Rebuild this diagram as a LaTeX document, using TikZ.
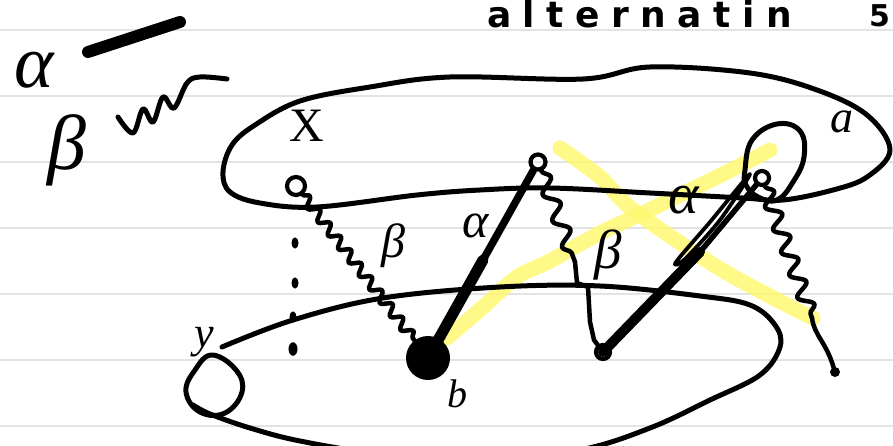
\documentclass[tikz,border=0pt]{standalone}
\usepackage{fontspec}
\setmainfont{Liberation Serif}
\newfontfamily\headfont[LetterSpace=32]{DejaVu Sans}
\newfontfamily\numfont{DejaVu Sans}
\usetikzlibrary{decorations.pathmorphing,calc}
\begin{document}
\begin{tikzpicture}[x=1pt,y=-1pt,line cap=round,line join=round,
  ink/.style={draw=black,line width=5pt},
  rule/.style={draw=gray!22,line width=2.8pt},
  hilite/.style={draw=yellow!55,line width=15pt,opacity=0.85},
  wavy/.style 2 args={draw=black,line width=4.5pt,decorate,decoration={snake,amplitude=#1pt,segment length=#2pt}},
  hand/.style={inner sep=0pt,font=\itshape\fontsize{#1}{#1}\selectfont},
  vtx/.style={circle,draw=black,line width=4.2pt,inner sep=0pt,minimum size=#1pt},
  blob/.style={circle,fill=black,inner sep=0pt,minimum size=#1pt},
  bar/.style={draw=black,line width=#1pt}]
\useasboundingbox (0,0) rectangle (893,446);
\clip (0,0) rectangle (893,446);
\fill[white] (0,0) rectangle (893,446);
% ruled paper
\foreach \yy in {30,96,162,228,294,360,426} \draw[rule] (0,\yy) -- (893,\yy);

% heading
\node[inner sep=0pt,anchor=base west,font=\headfont\bfseries\fontsize{36}{36}\selectfont] (title) at (487,28) {alternatin};
\node[inner sep=0pt,anchor=base west,font=\numfont\bfseries\fontsize{30}{30}\selectfont] (cut) at (869,27) {5};

% legend
\node[hand=75] (lalpha) at (34,70) {α};
\coordinate (la1) at (88,52);
\coordinate (la2) at (180,22);
\draw[bar=12] (la1) -- (la2);
\node[hand=78] (lbeta) at (67,150) {β};
\draw[ink,line width=5pt] plot[smooth,tension=0.6] coordinates {(118,117) (133,133) (143,109) (153,122) (163,97) (174,108) (187,83) (200,77) (227,79)};

% highlighter strokes
\draw[hilite] plot[smooth] coordinates {(560,148) (600,177) (633,210) (717,267) (783,303) (813,318)};
\draw[hilite] plot[smooth] coordinates {(447,338) (483,307) (517,277) (550,261) (600,233) (643,213) (717,177) (770,150)};

% set X (top ellipse)
\draw[ink] plot[smooth cycle,tension=0.6] coordinates {(223,172) (232,145) (255,125) (300,101) (370,87) (450,77) (583,79) (650,67) (750,73) (817,90) (867,115) (890,150) (867,177) (833,190) (783,200) (743,198) (650,193) (550,188) (480,190) (417,195) (317,207) (260,203) (230,192)};
\node[hand=48,font=\fontsize{48}{48}\selectfont] (labX) at (307,126) {X};
\node[hand=46] (laba) at (842,122) {a};

% set Y (bottom ellipse)
\draw[ink] plot[smooth,tension=0.6] coordinates {(222,347) (293,320) (383,298) (500,287) (600,286) (700,296) (750,305) (775,325) (780,347) (760,375) (710,400) (650,428) (580,450) (480,462) (380,454) (300,441) (250,428) (210,414) (193,405)};
\draw[ink] plot[smooth cycle,tension=0.7] coordinates {(212,355) (236,370) (242,392) (225,413) (200,412) (186,392) (195,370)};
\node[hand=44] (laby) at (204,342) {y};

% vertices
\node[vtx=18] (x1) at (296,186) {};
\node[blob=44] (b1) at (428,358) {};
\node[vtx=15] (a1) at (538,162) {};
\node[vtx=14] (b2) at (603,352) {};
\node[vtx=14] (a2) at (762,178) {};
\node[blob=10] (e1) at (835,372) {};
\node[hand=40] (labb) at (457,394) {b};

% dotted column under x1
\node[blob=7,yscale=1.6] (d1) at (295,243) {};
\node[blob=7,yscale=1.6] (d2) at (295,283) {};
\node[blob=7,yscale=1.6] (d3) at (293,317) {};
\node[blob=9,yscale=1.5] (d4) at (293,349) {};

% beta edge x1 -- b1
\draw[wavy={5}{17}] (x1) -- (b1);
\node[hand=48] (beta1) at (393,246) {β};

% alpha edge b1 -- a1 (thick)
\coordinate (m1) at ($(b1)!0.5!(a1)$);
\draw[bar=11] (b1.center) -- (m1);
\draw[bar=7.5] (m1) -- (a1);
\node[hand=50] (alpha1) at (476,226) {α};

% beta edge a1 -- b2
\coordinate (w2) at (575,262);
\draw[wavy={7}{28}] (a1) -- (w2);
\draw[ink,line width=4.5pt] (w2) -- (577,283) -- (588,287) -- (590,322) -- (594,340) -- (b2);
\node[hand=55] (beta2) at (608,255) {β};

% alpha edge b2 -- a2 (thick, then doubled)
\coordinate (m2) at (700,252);
\draw[bar=10] (b2.center) -- (m2);
\draw[bar=5.5] (m2) -- (a2);
\draw[ink,line width=3.8pt] plot[smooth cycle,tension=0.5] coordinates {(676,262) (710,222) (750,174) (720,220) (685,259)};
\node[hand=58] (alpha2) at (684,200) {α};
\draw[ink] plot[smooth cycle,tension=0.7] coordinates {(745,170) (752,140) (777,124) (800,131) (804,157) (793,182) (777,200) (758,197) (746,185)};

% beta edge a2 -- e1
\coordinate (w3) at (812,318);
\draw[wavy={7}{24}] (a2) -- (w3);
\draw[ink,line width=4.5pt] (w3) .. controls (814,335) and (826,342) .. (e1);
\end{tikzpicture}
\end{document}
